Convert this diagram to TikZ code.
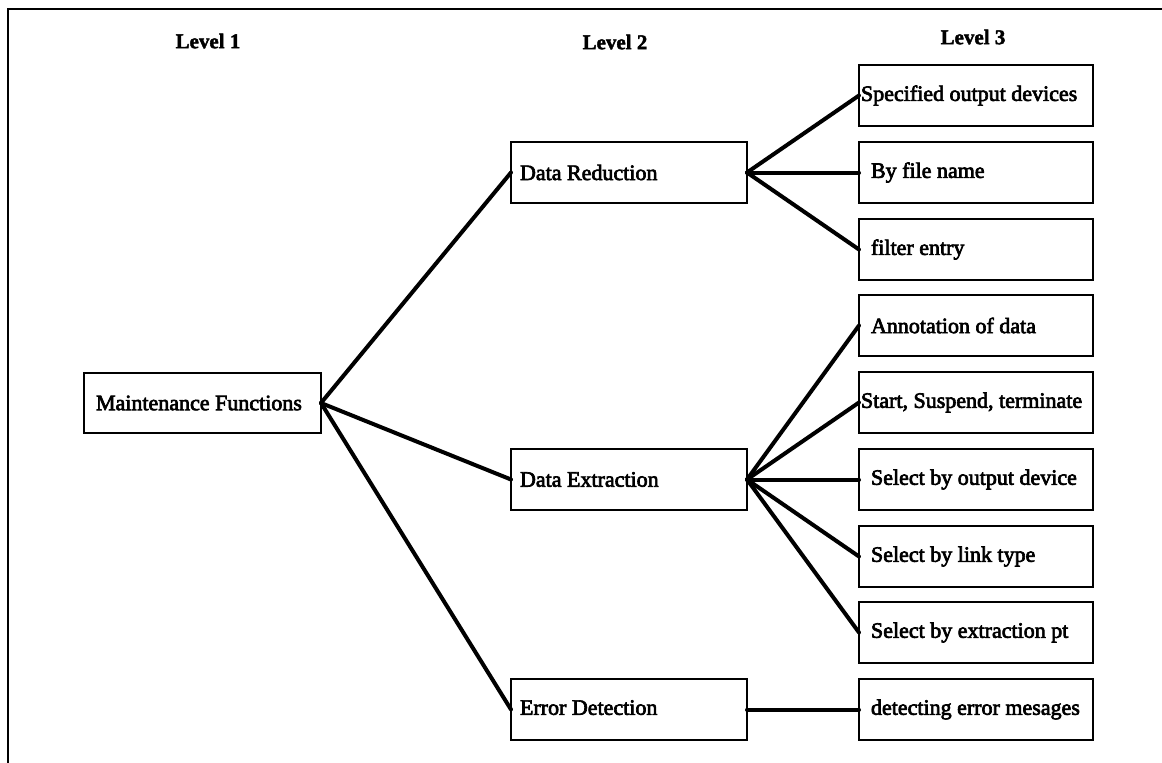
\documentclass[tikz,border=0pt]{standalone}
\usepackage{fontspec}
\setmainfont{Liberation Serif}
\newfontfamily\boxfont{Liberation Serif}[FakeBold=3]
\newfontfamily\headfont{Liberation Serif}[BoldFeatures={FakeBold=2}]
% left-aligned label of a fixed width
\newcommand\boxtext[3]{\makebox[#1][l]{\hspace{#2}#3}}
\begin{document}
\begin{tikzpicture}[x=1pt, y=-1pt,
  unit/.style={draw, line width=2.8pt, inner sep=0pt, outer sep=0pt,
    minimum height=61pt, anchor=north west,
    font=\boxfont\fontsize{22}{26}\selectfont},
  link/.style={line width=4pt, line cap=round},
  head/.style={font=\headfont\bfseries\fontsize{21}{25}\selectfont},
  frame/.style={line width=1.8pt}]
\useasboundingbox (0,0) rectangle (1162,763);

% outer frame (left and top sides)
\draw[frame] (8,763) -- (8,9) -- (1162,9);

% column headings
\node[head] (h1) at (208,41) {Level 1};
\node[head] (h2) at (615,42) {Level 2};
\node[head] (h3) at (973,37) {Level 3};

% level 1
\node[unit, minimum height=60pt] (mf) at (84,373) {\boxtext{237pt}{12pt}{Maintenance Functions}};

% level 2
\node[unit] (dr) at (511,142) {\boxtext{236pt}{9pt}{Data Reduction}};
\node[unit] (de) at (511,449) {\boxtext{236pt}{9pt}{Data Extraction}};
\node[unit] (ed) at (511,679) {\boxtext{236pt}{9pt}{\raisebox{4pt}{Error Detection}}};

% level 3
\node[unit] (r1) at (859,65)  {\boxtext{234pt}{2pt}{Specified output devices}};
\node[unit] (r2) at (859,142) {\boxtext{234pt}{12pt}{By file name}};
\node[unit] (r3) at (859,219) {\boxtext{234pt}{12pt}{filter entry}};
\node[unit] (x1) at (859,295) {\boxtext{234pt}{12pt}{Annotation of data}};
\node[unit] (x2) at (859,372) {\boxtext{234pt}{2pt}{Start, Suspend, terminate}};
\node[unit] (x3) at (859,449) {\boxtext{234pt}{12pt}{Select by output device}};
\node[unit] (x4) at (859,526) {\boxtext{234pt}{12pt}{Select by link type}};
\node[unit] (x5) at (859,602) {\boxtext{234pt}{12pt}{Select by extraction pt}};
\node[unit] (e1) at (859,679) {\boxtext{234pt}{12pt}{\raisebox{4pt}{detecting error mesages}}};

% connectors
\foreach \t in {dr,de,ed} \draw[link] (mf.east) -- (\t.west);
\foreach \t in {r1,r2,r3} \draw[link] (dr.east) -- (\t.west);
\foreach \t in {x1,x2,x3,x4,x5} \draw[link] (de.east) -- (\t.west);
\draw[link] (ed.east) -- (e1.west);
\end{tikzpicture}
\end{document}
